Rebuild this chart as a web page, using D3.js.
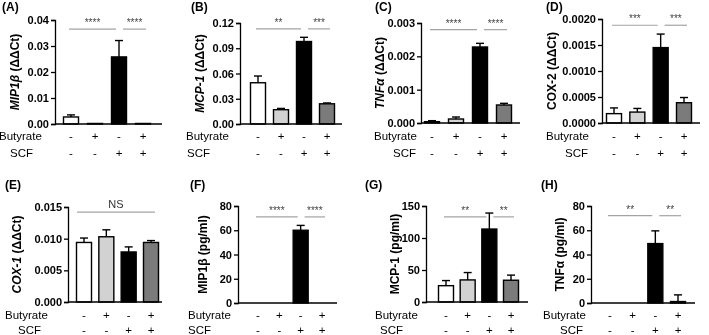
<!DOCTYPE html>
<html>
<head>
<meta charset="utf-8">
<script src="https://cdn.jsdelivr.net/npm/d3@7"></script>
<style>
  body { margin: 0; background: #fff; }
  svg { font-family: "Liberation Sans", Arial, sans-serif; will-change: transform; }
  .tick-label { font-size: 11px; font-weight: bold; }
  .y-title { font-size: 12px; font-weight: bold; }
  .panel-letter { font-size: 12px; font-weight: bold; }
  .row-label, .sign { font-size: 11.5px; }
</style>
</head>
<body>
<svg id="chart" width="709" height="335"></svg>
<script>
/* ---------- Data ---------- */
const groups = ["ctrl", "but", "scf", "scfBut"];
const butyrateSigns = ["-", "+", "-", "+"];
const scfSigns = ["-", "-", "+", "+"];
const barColors = ["#ffffff", "#d2d2d2", "#000000", "#7b7b7b"];

const panelLetters = ["(A)", "(B)", "(C)", "(D)", "(E)", "(F)", "(G)", "(H)"];
const titleNames = ["MIP1β", "MCP-1", "TNFα", "COX-2", "COX-1", "MIP1β", "MCP-1", "TNFα"];
const titleUnits = ["(ΔΔCt)", "(ΔΔCt)", "(ΔΔCt)", "(ΔΔCt)", "(ΔΔCt)", "(pg/ml)", "(pg/ml)", "(pg/ml)"];
const titleItalic = [true, true, true, false, true, false, false, false];

const yMax = [0.04, 0.12, 0.003, 0.002, 0.015, 80, 150, 80];
const yStep = [0.01, 0.03, 0.001, 0.0005, 0.005, 20, 50, 20];
const yDigits = [2, 2, 3, 4, 3, 0, 0, 0];

const means = [
    [0.0027, 0.0002, 0.0258, 0.0002],
    [0.049, 0.017, 0.098, 0.024],
    [0.00004, 0.00012, 0.00228, 0.00054],
    [0.00018, 0.00021, 0.00145, 0.00039],
    [0.0094, 0.0103, 0.0079, 0.0094],
    [0, 0, 60, 0],
    [25.5, 34.5, 114, 34],
    [0, 0, 49, 1.2]
];
const sems = [
    [0.0008, 0, 0.0063, 0],
    [0.008, 0.0015, 0.005, 0.001],
    [0.00003, 0.00006, 0.00011, 0.00005],
    [0.00011, 0.00007, 0.00026, 0.0001],
    [0.0007, 0.0011, 0.0008, 0.0003],
    [0, 0, 4, 0],
    [8, 11.5, 25, 8],
    [0, 0, 10.5, 5.5]
];

const sigPairs = [
    [[0, 2], [2, 3]], [[0, 2], [2, 3]], [[0, 2], [2, 3]], [[0, 2], [2, 3]],
    [[0, 3]],
    [[0, 2], [2, 3]], [[0, 2], [2, 3]], [[0, 2], [2, 3]]
];
const sigMarks = [
    ["****", "****"], ["**", "***"], ["****", "****"], ["***", "***"],
    ["NS"],
    ["****", "****"], ["**", "**"], ["**", "**"]
];
const sigLevel = [0.0365, 0.113, 0.0028, 0.00188, 0.0142, 71, 133, 72];

/* ---------- Layout (pixels) ---------- */
// ax: y-axis x, x1: end of x-axis, top/bot: plot top & baseline, c0/c3: first/last bar centre,
// tx: y-title centre, lx: letter x, bx/sx: row label x
const layout = [
    {ax: 55, x1: 162, top: 20, bot: 124, c0: 71, c3: 143, tx: 15, lx: 2, bx: -1, sx: 10},
    {ax: 240, x1: 342, top: 23, bot: 124, c0: 258, c3: 327, tx: 200, lx: 191, bx: 186, sx: 187},
    {ax: 421, x1: 520, top: 23, bot: 123, c0: 432, c3: 504, tx: 380, lx: 375, bx: 374, sx: 393},
    {ax: 602, x1: 700, top: 19, bot: 123, c0: 614, c3: 684, tx: 552, lx: 546, bx: 546, sx: 565},
    {ax: 68, x1: 162, top: 207, bot: 302, c0: 84, c3: 151, tx: 17, lx: 5, bx: 5, sx: 18},
    {ax: 238, x1: 337, top: 206, bot: 303, c0: 258, c3: 322, tx: 203, lx: 190, bx: 188, sx: 188},
    {ax: 426, x1: 528, top: 206, bot: 302, c0: 446, c3: 511, tx: 395, lx: 365, bx: 375, sx: 380},
    {ax: 591, x1: 695, top: 206, bot: 303, c0: 610, c3: 678, tx: 560, lx: 541, bx: 543, sx: 560}
];
const rowY = [[135.5, 152.5], [314.5, 330]];
const letterY = [11, 189];
const barWidth = 15;

const svg = d3.select("#chart");

layout.forEach((L, i) => {
    const row = i < 4 ? 0 : 1;
    const g = svg.append("g").attr("class", `panel panel-${i}`);

    const x = d3.scalePoint().domain(groups).range([L.c0, L.c3]);
    const y = d3.scaleLinear().domain([0, yMax[i]]).range([L.bot, L.top]);
    const ticks = d3.range(0, yMax[i] + yStep[i] / 2, yStep[i]);
    const fmt = d3.format(`.${yDigits[i]}f`);

    // bars
    const data = groups.map((k, j) => ({k, mean: means[i][j], sem: sems[i][j], color: barColors[j]}));
    g.append("g").selectAll("rect")
        .data(data.filter(d => d.mean > 0))
        .join("rect")
        .attr("x", d => x(d.k) - barWidth / 2)
        .attr("y", d => y(d.mean))
        .attr("width", barWidth)
        .attr("height", d => Math.max(0.5, y(0) - y(d.mean)))
        .attr("fill", d => d.color)
        .attr("stroke", "#000")
        .attr("stroke-width", 1.4);

    // error bars (upper only)
    const eb = g.append("g").selectAll("g")
        .data(data.filter(d => d.sem > 0))
        .join("g")
        .attr("stroke", "#000").attr("stroke-width", 1.4);
    eb.append("line")
        .attr("x1", d => x(d.k)).attr("x2", d => x(d.k))
        .attr("y1", d => y(d.mean)).attr("y2", d => y(d.mean + d.sem));
    eb.append("line")
        .attr("x1", d => x(d.k) - 4).attr("x2", d => x(d.k) + 4)
        .attr("y1", d => y(d.mean + d.sem)).attr("y2", d => y(d.mean + d.sem));

    // y axis
    const yAxis = g.append("g")
        .attr("transform", `translate(${L.ax},0)`)
        .call(d3.axisLeft(y).tickValues(ticks).tickFormat(fmt).tickSize(4).tickPadding(2));
    yAxis.attr("font-size", null).attr("font-family", null);
    yAxis.select(".domain").attr("stroke", "#000").attr("stroke-width", 1.3);
    yAxis.selectAll(".tick line").attr("stroke", "#000").attr("stroke-width", 1.3);
    yAxis.selectAll(".tick text").attr("class", "tick-label").attr("fill", "#000");

    // x axis line
    g.append("line")
        .attr("x1", L.ax).attr("x2", L.x1)
        .attr("y1", L.bot).attr("y2", L.bot)
        .attr("stroke", "#000").attr("stroke-width", 1.3);

    // y title
    const t = g.append("text")
        .attr("class", "y-title")
        .attr("transform", `translate(${L.tx},${(L.top + L.bot) / 2}) rotate(-90)`)
        .attr("text-anchor", "middle")
        .attr("dy", "0.35em");
    t.append("tspan").attr("font-style", titleItalic[i] ? "italic" : null).text(titleNames[i]);
    t.append("tspan").text(" " + titleUnits[i]);

    // panel letter
    g.append("text").attr("class", "panel-letter")
        .attr("x", L.lx).attr("y", letterY[row]).text(panelLetters[i]);

    // treatment rows
    [["Butyrate", L.bx, butyrateSigns], ["SCF", L.sx, scfSigns]].forEach(([label, lx, signs], r) => {
        g.append("text").attr("class", "row-label")
            .attr("x", lx).attr("y", rowY[row][r]).attr("dy", "0.35em").text(label);
        g.append("g").selectAll("text")
            .data(groups)
            .join("text")
            .attr("class", "sign")
            .attr("x", d => x(d)).attr("y", rowY[row][r]).attr("dy", "0.35em")
            .attr("text-anchor", "middle")
            .text((d, j) => signs[j]);
    });

    // significance
    const ly = y(sigLevel[i]);
    sigPairs[i].forEach(([a, b], s) => {
        let xa, xb;
        if (sigPairs[i].length === 1) { xa = x(groups[a]) - 7; xb = x(groups[b]) + 4; }
        else if (s === 0) { xa = x(groups[a]) - 2; xb = x(groups[b]) - 3; }
        else { xa = x(groups[a]) + 4; xb = x(groups[b]) + 3; }
        g.append("line")
            .attr("x1", xa).attr("x2", xb).attr("y1", ly).attr("y2", ly)
            .attr("stroke", "#a3a3a3").attr("stroke-width", 1.2);
        const isNS = sigMarks[i][s] === "NS";
        g.append("text")
            .attr("x", (xa + xb) / 2)
            .attr("y", isNS ? ly - 4.5 : ly - 3)
            .attr("text-anchor", "middle")
            .attr("font-size", isNS ? 11 : 10)
            .attr("fill", isNS ? "#333" : "#444")
            .text(sigMarks[i][s]);
    });
});
</script>
</body>
</html>
